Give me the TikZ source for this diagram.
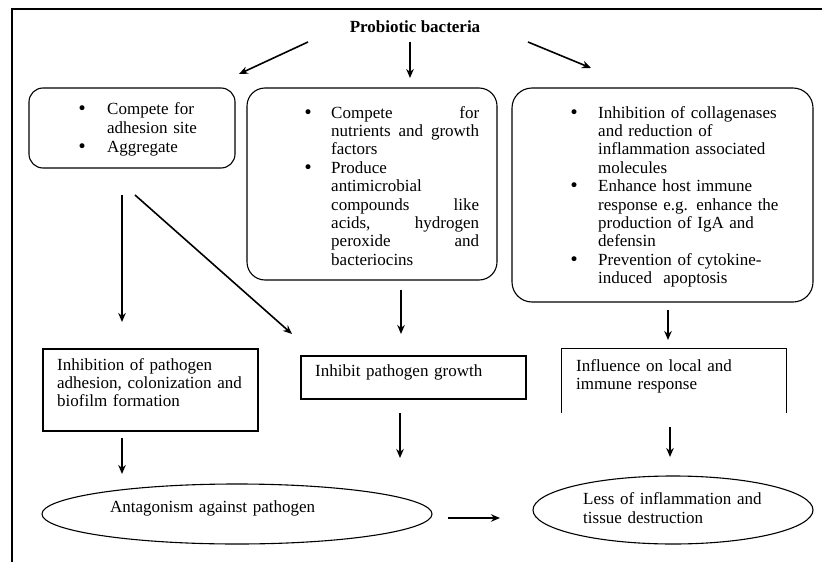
\documentclass[tikz,border=0pt]{standalone}
\usepackage{fontspec}
\setmainfont{Liberation Serif}
\newfontfamily\dejavu{DejaVu Sans}
\usetikzlibrary{arrows.meta,shapes.geometric}
\newcommand{\mybul}[1]{\makebox[#1][l]{\hspace*{1pt}{\dejavu •}}}
\newcommand{\jline}[1]{\hbox to 148pt{#1}}
\begin{document}
\begin{tikzpicture}[x=1pt,y=-1pt,
  rbox/.style={draw, line width=1.1pt, rounded corners=14pt, inner sep=0pt},
  sbox/.style={draw, line width=1.1pt, inner sep=0pt},
  txt/.style={inner sep=0pt, anchor=north west, align=left, font=\fontsize{17}{18.4}\selectfont},
  arr/.style={-{Stealth[length=9pt,width=7.5pt]}, line width=1.6pt},
  ell/.style={draw, ellipse, line width=1.1pt, inner sep=0pt}]
\useasboundingbox (0,0) rectangle (822,562);
% frame
\draw[line width=2pt] (12,562) -- (12,9) -- (822,9);
% title
\node[inner sep=0pt, font=\fontsize{17}{20}\selectfont\bfseries] (title) at (415,27) {Probiotic bacteria};
% boxes
\node[rbox, minimum width=206pt, minimum height=80pt] (b1) at (132,128) {};
\node[rbox, rounded corners=18pt, minimum width=250pt, minimum height=192pt] (b2) at (372,184) {};
\node[rbox, rounded corners=20pt, minimum width=301pt, minimum height=214pt] (b3) at (662.5,195) {};
\node[sbox, minimum width=215pt, minimum height=82pt] (b4) at (150.5,390) {};
\node[sbox, minimum width=225pt, minimum height=43pt] (b5) at (413.5,377.5) {};
\node[inner sep=0pt, minimum width=224pt, minimum height=64pt] (b6) at (674,381) {};
\draw[line width=1.1pt] (b6.south west) -- (b6.north west) -- (b6.north east) -- (b6.south east);
\node[ell, minimum width=390pt, minimum height=60pt] (e1) at (237,514) {};
\node[ell, minimum width=280pt, minimum height=68pt] (e2) at (673,510) {};
% texts
\node[txt, text width=170pt, font=\fontsize{17}{19}\selectfont] (t1) at (76,102)
  {\mybul{31pt}Compete for\\\hspace*{31pt}adhesion site\\\mybul{31pt}Aggregate};
\node[txt, text width=182pt] (t2) at (302,106)
  {\mybul{29pt}\jline{Compete\hfill for}\\
   \hspace*{29pt}\jline{nutrients\hfill and\hfill growth}\\
   \hspace*{29pt}factors\\
   \mybul{29pt}Produce\\
   \hspace*{29pt}antimicrobial\\
   \hspace*{29pt}\jline{compounds\hfill like}\\
   \hspace*{29pt}\jline{acids,\hfill hydrogen}\\
   \hspace*{29pt}\jline{peroxide\hfill and}\\
   \hspace*{29pt}bacteriocins};
\node[txt, text width=240pt] (t3) at (568,106)
  {\mybul{30pt}Inhibition of collagenases\\
   \hspace*{30pt}and reduction of\\
   \hspace*{30pt}inflammation associated\\
   \hspace*{30pt}molecules\\
   \mybul{30pt}Enhance host immune\\
   \hspace*{30pt}response e.g. enhance the\\
   \hspace*{30pt}production of IgA and\\
   \hspace*{30pt}defensin\\
   \mybul{30pt}Prevention of cytokine-\\
   \hspace*{30pt}induced\ \ apoptosis};
\node[txt, text width=200pt, font=\fontsize{17}{18}\selectfont] (t4) at (57,358)
  {Inhibition of pathogen\\adhesion, colonization and\\biofilm formation};
\node[txt, text width=200pt] (t5) at (315,364) {Inhibit pathogen growth};
\node[txt, text width=200pt, font=\fontsize{17}{18}\selectfont] (t6) at (576,359)
  {Influence on local and\\immune response};
\node[txt, text width=220pt] (t7) at (110,500) {Antagonism against pathogen};
\node[txt, text width=200pt, font=\fontsize{17}{19}\selectfont] (t8) at (583,492)
  {Less of inflammation and\\tissue destruction};
% arrow end points
\coordinate (p1a) at (308,42);  \coordinate (p1b) at (239,74);
\coordinate (p2a) at (410,42);  \coordinate (p2b) at (410,78);
\coordinate (p3a) at (528,42);  \coordinate (p3b) at (591,68);
\coordinate (p4a) at (122,195); \coordinate (p4b) at (122,322);
\coordinate (p5a) at (135,195); \coordinate (p5b) at (292,334);
\coordinate (p6a) at (401,290); \coordinate (p6b) at (401,334);
\coordinate (p7a) at (668,310); \coordinate (p7b) at (668,340);
\coordinate (p8a) at (122,438); \coordinate (p8b) at (122,474);
\coordinate (p9a) at (400,413); \coordinate (p9b) at (400,458);
\coordinate (p10a) at (670,427); \coordinate (p10b) at (670,457);
\coordinate (p11a) at (448,518); \coordinate (p11b) at (500,518);
\draw[arr] (p1a) -- (p1b);
\draw[arr] (p2a) -- (p2b);
\draw[arr] (p3a) -- (p3b);
\draw[arr] (p4a) -- (p4b);
\draw[arr] (p5a) -- (p5b);
\draw[arr] (p6a) -- (p6b);
\draw[arr] (p7a) -- (p7b);
\draw[arr] (p8a) -- (p8b);
\draw[arr] (p9a) -- (p9b);
\draw[arr] (p10a) -- (p10b);
\draw[arr] (p11a) -- (p11b);
\end{tikzpicture}
\end{document}
